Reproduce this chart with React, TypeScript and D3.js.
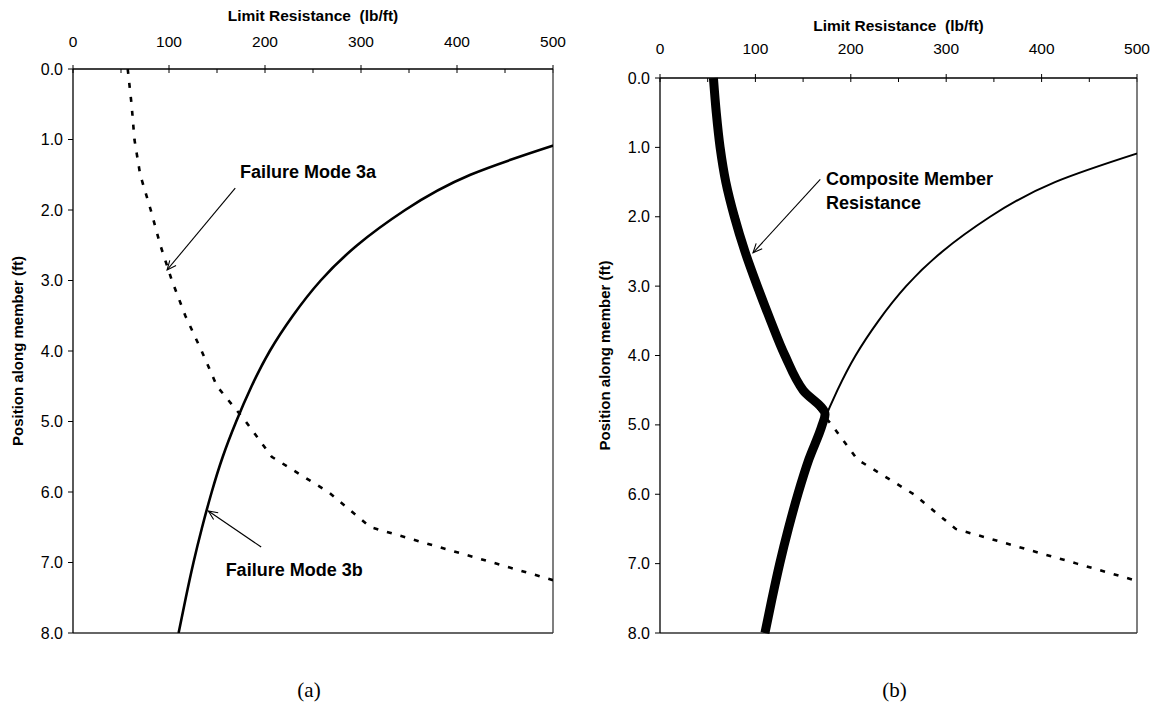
import * as d3 from "d3";

// Position along member (ft) and limit resistance (lb/ft)
const positions3a = [0, 0.5, 1, 1.5, 2, 2.5, 3, 3.5, 4, 4.5, 5, 5.5, 6, 6.5, 7, 7.5];
const mode3a = [57, 61, 64, 70, 81, 91, 103, 117, 134, 150, 180, 207, 266, 310, 437, 563];

const positions3b = [1, 1.5, 2, 2.5, 3, 3.5, 4, 4.5, 5, 5.5, 6, 6.5, 7, 7.5, 8];
const mode3b = [520, 414, 346, 296, 258, 229, 205, 186, 170, 156, 144.5, 134.5, 125.5, 117.5, 110];

const positionsComposite = [0, 0.5, 1, 1.5, 2, 2.5, 3, 3.5, 4, 4.5, 4.85, 5, 5.5, 6, 6.5, 7, 7.5, 8];
const composite = [56, 59, 63, 69, 78, 89, 102, 116, 131, 150, 173, 170, 156, 144.5, 134.5, 125.5, 117.5, 110];

const xTicks = [0, 100, 200, 300, 400, 500];
const xMinorTicks = [50, 150, 250, 350, 450];
const yTicks = [0, 1, 2, 3, 4, 5, 6, 7, 8];

const FONT = "Arial, 'Liberation Sans', Helvetica, sans-serif";

type Pt = { p: number; v: number };
const zipPts = (ps: number[], vs: number[]): Pt[] => ps.map((p, i) => ({ p, v: vs[i] }));

interface Layout {
  x0: number; x1: number; y0: number; y1: number;
  titleY: number; tickY: number;
}

function Arrow({ x1, y1, x2, y2 }: { x1: number; y1: number; x2: number; y2: number }) {
  const a = Math.atan2(y2 - y1, x2 - x1);
  const L = 10, th = 0.42;
  const h1 = [x2 - L * Math.cos(a - th), y2 - L * Math.sin(a - th)];
  const h2 = [x2 - L * Math.cos(a + th), y2 - L * Math.sin(a + th)];
  return (
    <g stroke="#000" strokeWidth={1.1} fill="none">
      <line x1={x1} y1={y1} x2={x2} y2={y2} />
      <path d={`M${h1[0]},${h1[1]}L${x2},${y2}L${h2[0]},${h2[1]}`} />
    </g>
  );
}

function Panel({ id, lay, kind }: { id: string; lay: Layout; kind: "a" | "b" }) {
  const x = d3.scaleLinear().domain([0, 500]).range([lay.x0, lay.x1]);
  const y = d3.scaleLinear().domain([0, 8]).range([lay.y0, lay.y1]);
  const line = d3.line<Pt>().x((d) => x(d.v)).y((d) => y(d.p));
  const smooth = d3.line<Pt>().x((d) => x(d.v)).y((d) => y(d.p)).curve(d3.curveNatural);
  const mono = d3.line<Pt>().x((d) => x(d.v)).y((d) => y(d.p)).curve(d3.curveMonotoneY);
  const cx = (lay.x0 + lay.x1) / 2;
  const cy = (lay.y0 + lay.y1) / 2;

  return (
    <g fontFamily={FONT}>
      <defs>
        <clipPath id={id}>
          <rect x={lay.x0} y={lay.y0} width={lay.x1 - lay.x0} height={lay.y1 - lay.y0} />
        </clipPath>
      </defs>

      {/* titles */}
      <text x={cx} y={lay.titleY} textAnchor="middle" fontWeight="bold" fontSize={15.5}>
        Limit Resistance{"\u00a0\u00a0"}(lb/ft)
      </text>
      <text
        transform={`translate(${lay.x0 - 50},${cy}) rotate(-90)`}
        textAnchor="middle"
        fontWeight="bold"
        fontSize={15}
      >
        Position along member (ft)
      </text>

      {/* x axis on top */}
      {xTicks.map((t) => (
        <g key={"xt" + t}>
          <line x1={x(t)} x2={x(t)} y1={lay.y0 - 4} y2={lay.y0 + 4} stroke="#000" />
          <text x={x(t)} y={lay.tickY} textAnchor="middle" fontSize={15.5}>
            {t}
          </text>
        </g>
      ))}
      {xMinorTicks.map((t) => (
        <line key={"xm" + t} x1={x(t)} x2={x(t)} y1={lay.y0} y2={lay.y0 + 4} stroke="#000" />
      ))}

      {/* y axis */}
      {yTicks.map((t) => (
        <g key={"yt" + t}>
          <line x1={lay.x0 - 5} x2={lay.x0} y1={y(t)} y2={y(t)} stroke="#000" />
          <text x={lay.x0 - 10} y={y(t)} dy="0.35em" textAnchor="end" fontSize={16}>
            {d3.format(".1f")(t)}
          </text>
        </g>
      ))}

      {/* frame */}
      <line x1={lay.x1} x2={lay.x1} y1={lay.y0} y2={lay.y1} stroke="#555" strokeWidth={1.5} />
      <line x1={lay.x0} x2={lay.x1} y1={lay.y1} y2={lay.y1} stroke="#333" strokeWidth={1.5} />
      <line x1={lay.x0} x2={lay.x1} y1={lay.y0} y2={lay.y0} stroke="#000" strokeWidth={1.3} />
      <line x1={lay.x0} x2={lay.x0} y1={lay.y0} y2={lay.y1} stroke="#000" strokeWidth={1.3} />

      {/* series */}
      <g clipPath={`url(#${id})`} fill="none" stroke="#000">
        <path
          d={line(zipPts(positions3a, mode3a)) || ""}
          strokeWidth={2.6}
          strokeDasharray="5,9"
        />
        <path
          d={smooth(zipPts(positions3b, mode3b)) || ""}
          strokeWidth={kind === "a" ? 2.6 : 2}
        />
      </g>
      {kind === "b" && (
        <path
          d={mono(zipPts(positionsComposite, composite)) || ""}
          fill="none"
          stroke="#000"
          strokeWidth={9}
        />
      )}

      {/* annotations */}
      {kind === "a" ? (
        <g fontWeight="bold" fontSize={18}>
          <text x={x(174)} y={y(1.54)}>Failure Mode 3a</text>
          <Arrow x1={x(169)} y1={y(1.69)} x2={x(98)} y2={y(2.85)} />
          <text x={x(159)} y={y(7.19)}>Failure Mode 3b</text>
          <Arrow x1={x(196)} y1={y(6.78)} x2={x(141)} y2={y(6.27)} />
        </g>
      ) : (
        <g fontWeight="bold" fontSize={18}>
          <text x={x(174)} y={y(1.54)}>Composite Member</text>
          <text x={x(174)} y={y(1.54) + 24}>Resistance</text>
          <Arrow x1={x(168)} y1={y(1.46)} x2={x(97.5)} y2={y(2.52)} />
        </g>
      )}

      <text
        x={cx - 4}
        y={697}
        textAnchor="middle"
        fontFamily="'Times New Roman', 'Liberation Serif', serif"
        fontSize={21}
      >
        {kind === "a" ? "(a)" : "(b)"}
      </text>
    </g>
  );
}

export default function App() {
  const left: Layout = { x0: 73, x1: 553, y0: 69, y1: 633, titleY: 21, tickY: 47 };
  const right: Layout = { x0: 660, x1: 1137, y0: 78, y1: 633, titleY: 31, tickY: 54 };
  return (
    <svg
      width={1157}
      height={715}
      style={{ position: "absolute", left: 0, top: 0, background: "#fff" }}
    >
      <Panel id="clipA" lay={left} kind="a" />
      <Panel id="clipB" lay={right} kind="b" />
    </svg>
  );
}
